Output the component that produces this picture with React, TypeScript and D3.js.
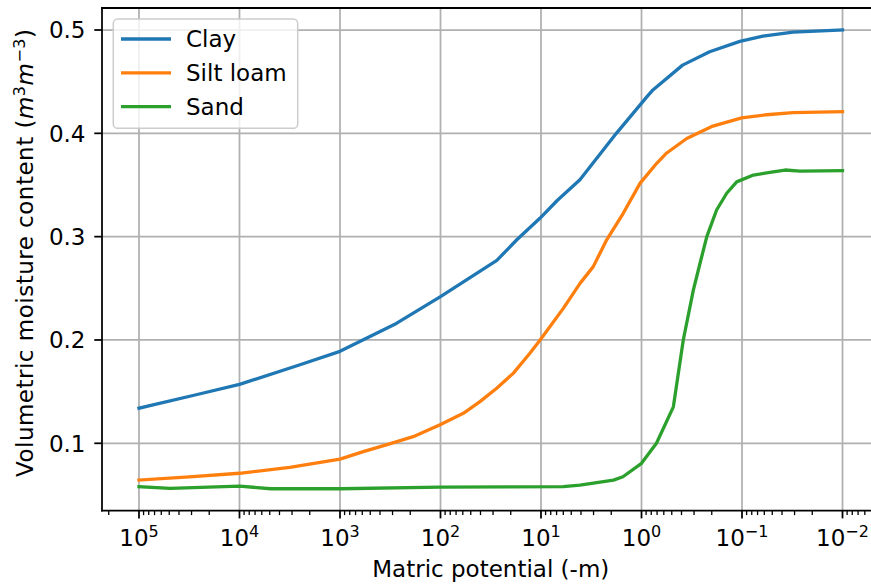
import { useEffect, useRef } from 'react';
import * as d3 from 'd3';

// Matric potential (-m) and volumetric moisture content
const clayPotential = [1e5, 2.7e4, 1e4, 2.5e3, 1e3, 275, 100, 27.5, 17.4, 10.2, 6.9, 4.1, 1.78, 0.89, 0.77, 0.39, 0.21, 0.105, 0.062, 0.031, 0.01];
const clayMoisture = [0.134, 0.147, 0.157, 0.176, 0.189, 0.216, 0.242, 0.277, 0.297, 0.318, 0.335, 0.355, 0.4, 0.435, 0.442, 0.466, 0.479, 0.489, 0.494, 0.498, 0.5];

const siltPotential = [1e5, 3.16e4, 1e4, 3.16e3, 1e3, 586, 309, 187, 101, 59.3, 40.5, 27.6, 18.9, 12.9, 10.2, 6.0, 4.09, 3.02, 2.22, 1.52, 1.035, 0.706, 0.561, 0.355, 0.195, 0.1007, 0.0568, 0.0311, 0.01];
const siltMoisture = [0.0644, 0.0676, 0.071, 0.0767, 0.0847, 0.0919, 0.1, 0.1064, 0.118, 0.129, 0.1403, 0.1532, 0.1677, 0.1871, 0.2, 0.2306, 0.2548, 0.271, 0.297, 0.3226, 0.3516, 0.371, 0.381, 0.395, 0.407, 0.415, 0.418, 0.42, 0.421];

const sandPotential = [1e5, 4.9e4, 1e4, 4.9e3, 1e3, 100, 6.0, 4.1, 1.9, 1.53, 1.0, 0.71, 0.482, 0.384, 0.305, 0.262, 0.224, 0.179, 0.142, 0.113, 0.077, 0.0489, 0.0373, 0.0265, 0.01];
const sandMoisture = [0.058, 0.0563, 0.0586, 0.056, 0.056, 0.0576, 0.058, 0.0595, 0.0644, 0.0676, 0.0806, 0.1, 0.1353, 0.2, 0.2483, 0.274, 0.3, 0.3258, 0.342, 0.353, 0.3596, 0.3628, 0.3645, 0.3635, 0.3638];

const seriesNames = ['Clay', 'Silt loam', 'Sand'];
const seriesColors = ['#1f77b4', '#ff7f0e', '#2ca02c'];
const xTickExponents = [5, 4, 3, 2, 1, 0, -1, -2];
const yTicks = [0.1, 0.2, 0.3, 0.4, 0.5];

export default function App() {
  const svgRef = useRef<SVGSVGElement>(null);

  useEffect(() => {
    if (!svgRef.current) return;
    const svg = d3.select(svgRef.current);
    svg.selectAll('*').remove();

    const left = 102, right = 879.5, top = 8, bottom = 510.7;
    const font = 'DejaVu Sans, sans-serif';
    const fontSize = 23;
    const supSize = 16;

    const x = d3.scaleLog()
      .domain([Math.pow(10, 5.368), Math.pow(10, -2.368)])
      .range([left, right]);
    const y = d3.scaleLinear()
      .domain([0.03477, 0.5213])
      .range([bottom, top]);

    // Grid
    const grid = svg.append('g').attr('stroke', '#b0b0b0').attr('stroke-width', 1.76);
    xTickExponents.forEach(e => {
      grid.append('line')
        .attr('x1', x(Math.pow(10, e))).attr('x2', x(Math.pow(10, e)))
        .attr('y1', top).attr('y2', bottom);
    });
    yTicks.forEach(t => {
      grid.append('line')
        .attr('x1', left).attr('x2', right)
        .attr('y1', y(t)).attr('y2', y(t));
    });

    // Lines
    const series = [
      { p: clayPotential, m: clayMoisture },
      { p: siltPotential, m: siltMoisture },
      { p: sandPotential, m: sandMoisture },
    ];
    const line = d3.line<[number, number]>()
      .x(d => x(d[0]))
      .y(d => y(d[1]));

    series.forEach((s, i) => {
      const pts = s.p.map((p, j) => [p, s.m[j]] as [number, number]);
      svg.append('path')
        .datum(pts)
        .attr('fill', 'none')
        .attr('stroke', seriesColors[i])
        .attr('stroke-width', 3.3)
        .attr('stroke-linejoin', 'round')
        .attr('stroke-linecap', 'square')
        .attr('d', line);
    });

    // Spines
    const spines = svg.append('g').attr('stroke', '#000').attr('stroke-width', 1.76).attr('stroke-linecap', 'square');
    spines.append('line').attr('x1', left).attr('x2', left).attr('y1', top).attr('y2', bottom);
    spines.append('line').attr('x1', right).attr('x2', right).attr('y1', top).attr('y2', bottom);
    spines.append('line').attr('x1', left).attr('x2', right).attr('y1', top).attr('y2', top);
    spines.append('line').attr('x1', left).attr('x2', right).attr('y1', bottom).attr('y2', bottom);

    // Y ticks
    yTicks.forEach(t => {
      svg.append('line')
        .attr('x1', left - 7.7).attr('x2', left)
        .attr('y1', y(t)).attr('y2', y(t))
        .attr('stroke', '#000').attr('stroke-width', 1.76);
      svg.append('text')
        .attr('x', left - 16.5)
        .attr('y', y(t) + 8.3)
        .attr('text-anchor', 'end')
        .attr('font-family', font)
        .attr('font-size', fontSize)
        .attr('fill', '#000')
        .text(t.toFixed(1));
    });

    // X minor ticks
    const [dMax, dMin] = x.domain();
    for (let k = -3; k <= 5; k++) {
      for (let m = 2; m <= 9; m++) {
        const v = m * Math.pow(10, k);
        if (v > dMax || v < dMin) continue;
        svg.append('line')
          .attr('x1', x(v)).attr('x2', x(v))
          .attr('y1', bottom).attr('y2', bottom + 4.4)
          .attr('stroke', '#000').attr('stroke-width', 1.3);
      }
    }

    // X major ticks
    xTickExponents.forEach(e => {
      const px = x(Math.pow(10, e));
      svg.append('line')
        .attr('x1', px).attr('x2', px)
        .attr('y1', bottom).attr('y2', bottom + 7.7)
        .attr('stroke', '#000').attr('stroke-width', 1.76);
      const label = svg.append('text')
        .attr('x', px)
        .attr('y', 545.7)
        .attr('text-anchor', 'middle')
        .attr('font-family', font)
        .attr('font-size', fontSize)
        .attr('fill', '#000');
      label.append('tspan').text('10');
      label.append('tspan')
        .attr('dy', -9)
        .attr('font-size', supSize)
        .text(e < 0 ? `\u2212${-e}` : `${e}`);
    });

    // Axis labels
    svg.append('text')
      .attr('x', (left + right) / 2)
      .attr('y', 577)
      .attr('text-anchor', 'middle')
      .attr('font-family', font)
      .attr('font-size', fontSize)
      .attr('fill', '#000')
      .text('Matric potential (-m)');

    const yLabel = svg.append('text')
      .attr('transform', `translate(33, 253) rotate(-90)`)
      .attr('text-anchor', 'middle')
      .attr('font-family', font)
      .attr('font-size', fontSize)
      .attr('textLength', 448)
      .attr('lengthAdjust', 'spacing')
      .attr('fill', '#000');
    yLabel.append('tspan').text('Volumetric moisture content (');
    yLabel.append('tspan').attr('font-style', 'italic').text('m');
    yLabel.append('tspan').attr('dy', -8).attr('font-size', supSize).text('3');
    yLabel.append('tspan').attr('dy', 8).attr('font-style', 'italic').text('m');
    yLabel.append('tspan').attr('dy', -8).attr('font-size', supSize).text('\u22123');
    yLabel.append('tspan').attr('dy', 8).text(')');

    // Legend
    const legend = svg.append('g');
    legend.append('rect')
      .attr('x', 113.3).attr('y', 19)
      .attr('width', 184.4).attr('height', 109.3)
      .attr('rx', 4.4)
      .attr('fill', '#fff').attr('fill-opacity', 0.8)
      .attr('stroke', '#cccccc').attr('stroke-width', 1.5);

    seriesNames.forEach((name, i) => {
      const ly = 39 + i * 33.8;
      legend.append('line')
        .attr('x1', 121).attr('x2', 171)
        .attr('y1', ly).attr('y2', ly)
        .attr('stroke', seriesColors[i])
        .attr('stroke-width', 3.3);
      legend.append('text')
        .attr('x', 186)
        .attr('y', ly + 8.3)
        .attr('font-family', font)
        .attr('font-size', fontSize)
        .attr('fill', '#000')
        .text(name);
    });
  }, []);

  return (
    <div style={{ position: 'absolute', left: 0, top: 0 }}>
      <svg ref={svgRef} width={871} height={584} style={{ display: 'block' }} />
    </div>
  );
}
